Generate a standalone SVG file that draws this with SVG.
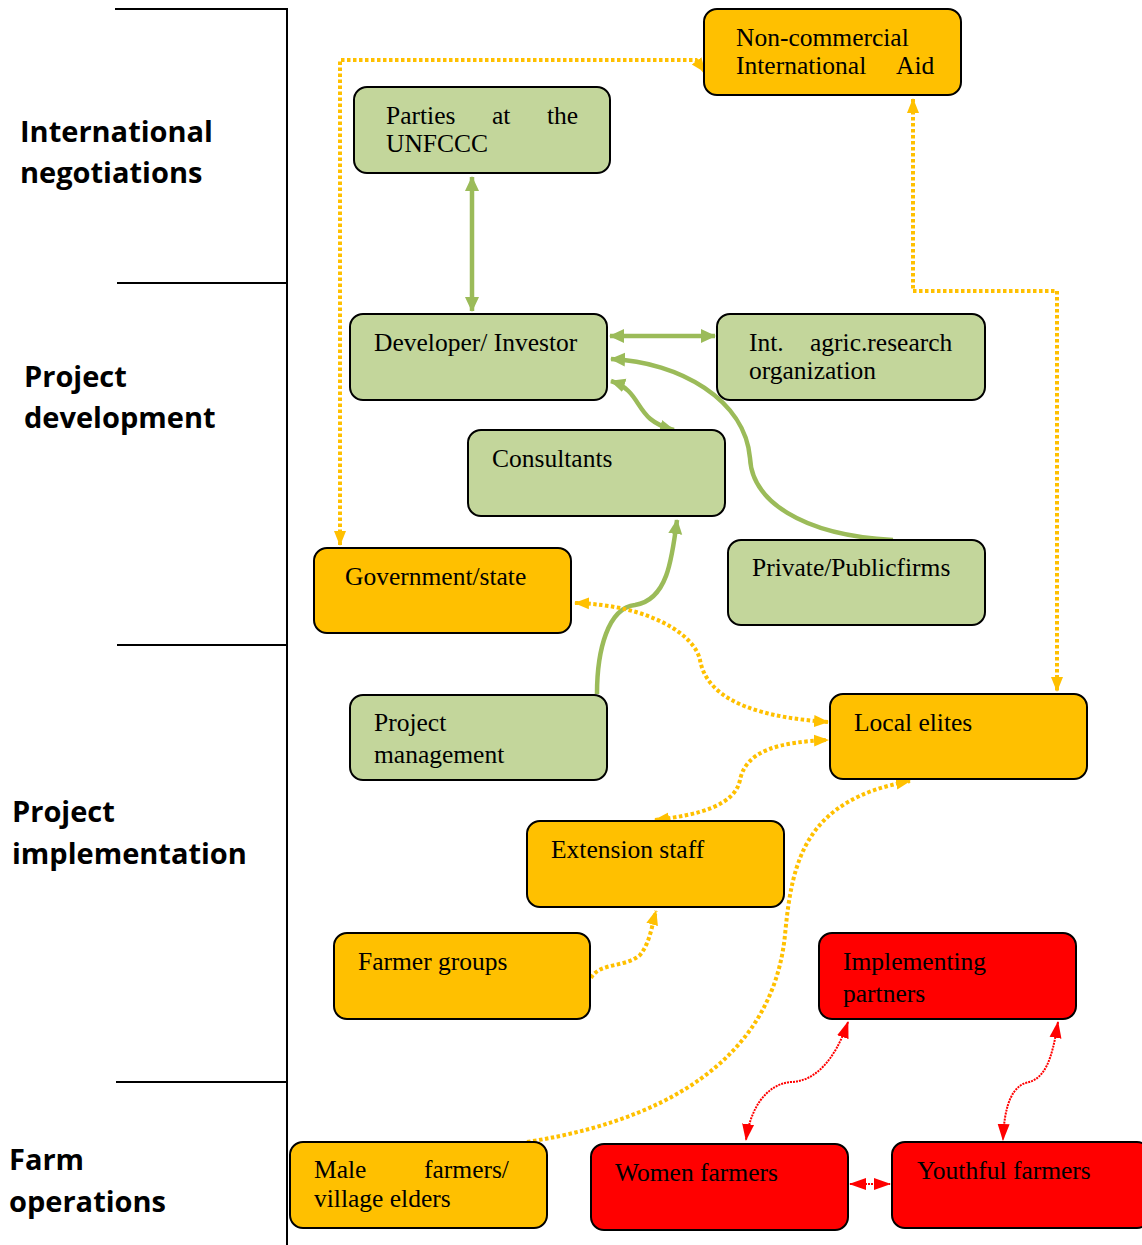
<svg xmlns="http://www.w3.org/2000/svg" width="1142" height="1245" viewBox="0 0 1142 1245">
<style>
.box{stroke:#000;stroke-width:2}
.g{fill:#C3D69B}
.o{fill:#FFC000}
.r{fill:#FF0000}
.t{font-family:"Liberation Serif","Times New Roman",serif;font-size:25.5px;fill:#000}
.lab{font-family:"Open Sans","DejaVu Sans",sans-serif;font-size:29px;font-weight:bold;fill:#000}
.gl{fill:none;stroke:#9BBB59;stroke-width:4.5}
.ol{fill:none;stroke:#FFC000;stroke-width:4;stroke-dasharray:3.5 2.5}
.rl{fill:none;stroke:#FF0000;stroke-width:2;stroke-dasharray:2 1}
.frame{stroke:#000;stroke-width:2;fill:none}
</style>
<defs>
<marker id="ag" markerUnits="userSpaceOnUse" markerWidth="16" markerHeight="16" viewBox="0 0 16 16" refX="14" refY="8" orient="auto-start-reverse"><path d="M0,1 L15,8 L0,15 Z" fill="#9BBB59"/></marker>
<marker id="ao" markerUnits="userSpaceOnUse" markerWidth="16" markerHeight="14" viewBox="0 0 16 14" refX="14" refY="7" orient="auto-start-reverse"><path d="M0,1 L15,7 L0,13 Z" fill="#FFC000"/></marker>
<marker id="ar" markerUnits="userSpaceOnUse" markerWidth="18" markerHeight="14" viewBox="0 0 18 14" refX="16" refY="7" orient="auto-start-reverse"><path d="M0,1 L17,7 L0,13 Z" fill="#FF0000"/></marker>
</defs>
<rect width="1142" height="1245" fill="#fff"/>

<g id="frame">
<line class="frame" x1="287" y1="8" x2="287" y2="1245"/>
<line class="frame" x1="115" y1="9" x2="287" y2="9"/>
<line class="frame" x1="117" y1="283" x2="287" y2="283"/>
<line class="frame" x1="117" y1="645" x2="287" y2="645"/>
<line class="frame" x1="116" y1="1082" x2="287" y2="1082"/>
</g>

<g id="labels">
<text class="lab" x="20" y="142">International</text>
<text class="lab" x="20" y="183">negotiations</text>
<text class="lab" x="24" y="387">Project</text>
<text class="lab" x="24" y="428">development</text>
<text class="lab" x="12" y="822">Project</text>
<text class="lab" x="12" y="864">implementation</text>
<text class="lab" x="9" y="1170">Farm</text>
<text class="lab" x="9" y="1212">operations</text>
</g>

<g id="connectors">
<line class="gl" x1="472" y1="177" x2="472" y2="311" marker-start="url(#ag)" marker-end="url(#ag)"/>
<line class="gl" x1="610" y1="336" x2="715" y2="336" marker-start="url(#ag)" marker-end="url(#ag)"/>
<path class="gl" d="M893,540 C 800,535 752,500 750,458 C 745,400 680,362 611,359" marker-end="url(#ag)"/>
<path class="gl" d="M611,381 C 645,392 632,420 674,430" marker-start="url(#ag)" marker-end="url(#ag)"/>
<path class="gl" d="M597,694 C 597,650 608,608 635,605 C 667,600 672,560 677,520" marker-end="url(#ag)"/>

<path class="ol" d="M340,545 L340,60 L696,60 L705,72" marker-start="url(#ao)" marker-end="url(#ao)"/>
<path class="ol" d="M913,99 L913,291 L1057,291 L1057,691" marker-start="url(#ao)" marker-end="url(#ao)"/>
<path class="ol" d="M575,603 C 650,605 695,635 700,660 C 708,705 770,718 828,722" marker-start="url(#ao)" marker-end="url(#ao)"/>
<path class="ol" d="M655,820 C 700,815 735,805 740,780 C 746,750 780,742 828,740" marker-start="url(#ao)" marker-end="url(#ao)"/>
<path class="ol" d="M591,978 C 600,962 625,968 640,955 C 650,943 652,925 656,911" marker-end="url(#ao)"/>
<path class="ol" d="M527,1142 C 700,1115 775,1035 785,935 C 792,860 805,800 910,781" marker-end="url(#ao)"/>

<path class="rl" d="M848,1022 C 835,1060 815,1082 790,1082 C 765,1085 750,1110 746,1140" marker-start="url(#ar)" marker-end="url(#ar)"/>
<path class="rl" d="M1058,1022 C 1052,1060 1045,1080 1025,1083 C 1008,1090 1004,1115 1003,1140" marker-start="url(#ar)" marker-end="url(#ar)"/>
<line class="rl" x1="850" y1="1184" x2="890" y2="1184" marker-start="url(#ar)" marker-end="url(#ar)"/>
</g>

<g id="n-aid"><rect class="box o" x="704" y="9" width="257" height="86" rx="13"/>
<text class="t" x="736" y="46">Non-commercial</text><text class="t" x="736" y="74">International</text><text class="t" x="896" y="74">Aid</text></g>

<g id="n-parties"><rect class="box g" x="354" y="87" width="256" height="86" rx="13"/>
<text class="t" x="386" y="124">Parties</text><text class="t" x="492" y="124">at</text><text class="t" x="547" y="124">the</text><text class="t" x="386" y="152">UNFCCC</text></g>

<g id="n-developer"><rect class="box g" x="350" y="314" width="257" height="86" rx="13"/>
<text class="t" x="374" y="351">Developer/ Investor</text></g>

<g id="n-research"><rect class="box g" x="717" y="314" width="268" height="86" rx="13"/>
<text class="t" x="749" y="351">Int.</text><text class="t" x="810" y="351">agric.research</text><text class="t" x="749" y="379">organization</text></g>

<g id="n-consultants"><rect class="box g" x="468" y="430" width="257" height="86" rx="13"/>
<text class="t" x="492" y="467">Consultants</text></g>

<g id="n-government"><rect class="box o" x="314" y="548" width="257" height="85" rx="13"/>
<text class="t" x="345" y="585">Government/state</text></g>

<g id="n-firms"><rect class="box g" x="728" y="540" width="257" height="85" rx="13"/>
<text class="t" x="752" y="576">Private/Publicfirms</text></g>

<g id="n-pm"><rect class="box g" x="350" y="695" width="257" height="85" rx="13"/>
<text class="t" x="374" y="731">Project</text><text class="t" x="374" y="763">management</text></g>

<g id="n-elites"><rect class="box o" x="830" y="694" width="257" height="85" rx="13"/>
<text class="t" x="854" y="731">Local elites</text></g>

<g id="n-extension"><rect class="box o" x="527" y="821" width="257" height="86" rx="13"/>
<text class="t" x="551" y="858">Extension staff</text></g>

<g id="n-groups"><rect class="box o" x="334" y="933" width="256" height="86" rx="13"/>
<text class="t" x="358" y="970">Farmer groups</text></g>

<g id="n-partners"><rect class="box r" x="819" y="933" width="257" height="86" rx="13"/>
<text class="t" x="843" y="970">Implementing</text><text class="t" x="843" y="1002">partners</text></g>

<g id="n-male"><rect class="box o" x="290" y="1142" width="257" height="86" rx="13"/>
<text class="t" x="314" y="1178">Male</text><text class="t" x="424" y="1178">farmers/</text><text class="t" x="314" y="1207">village elders</text></g>

<g id="n-women"><rect class="box r" x="591" y="1144" width="257" height="86" rx="13"/>
<text class="t" x="615" y="1181">Women farmers</text></g>

<g id="n-youth"><rect class="box r" x="892" y="1142" width="258" height="86" rx="13"/>
<text class="t" x="917" y="1179">Youthful farmers</text></g>
</svg>
